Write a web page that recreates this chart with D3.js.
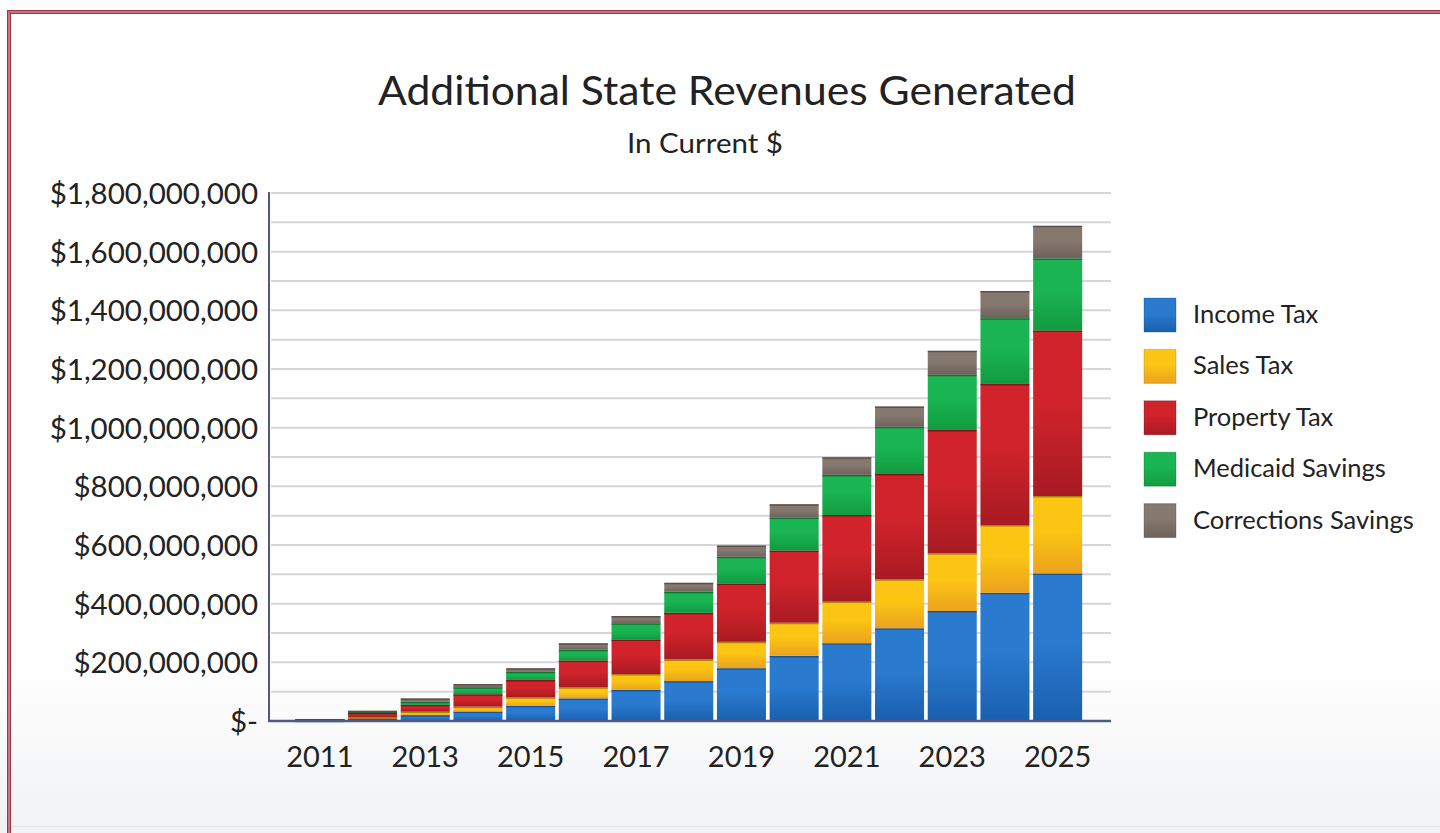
<!DOCTYPE html>
<html>
<head>
<meta charset="utf-8">
<script src="https://cdn.jsdelivr.net/npm/d3@7"></script>
<style>
  html, body { margin: 0; padding: 0; background: #fff; }
  svg { display: block; }
  text { font-family: Lato, "Open Sans", sans-serif; fill: #222; }
</style>
</head>
<body>
<svg id="chart" width="1440" height="833"></svg>
<script>
// ---- data (millions of $) ----
const years = [2011, 2012, 2013, 2014, 2015, 2016, 2017, 2018, 2019, 2020, 2021, 2022, 2023, 2024, 2025];
const incomeTax      = [1, 8, 20, 32, 52, 77, 106, 136, 180, 222, 265, 316, 375, 437, 503];
const salesTax       = [1, 4, 12, 17, 29, 38, 54, 74, 90, 113, 142, 167, 197, 231, 264];
const propertyTax    = [3, 16, 23, 42, 59, 91, 118, 159, 199, 246, 295, 359, 420, 481, 564];
const medicaidSaving = [1, 4, 11, 24, 28, 37, 55, 72, 91, 113, 137, 161, 188, 224, 246];
const correctionsSav = [1, 3, 11, 11, 12, 22, 25, 30, 38, 45, 60, 69, 82, 93, 111];
const seriesNames = ["Income Tax", "Sales Tax", "Property Tax", "Medicaid Savings", "Corrections Savings"];
const yTicks = [0, 200, 400, 600, 800, 1000, 1200, 1400, 1600, 1800];
const xTickYears = [2011, 2013, 2015, 2017, 2019, 2021, 2023, 2025];

const colors = [
  {top: "#2a7bd0", bot: "#1a5fae", edge: "#14467e"},
  {top: "#fcc514", bot: "#eaa21e", edge: "#8a6a10"},
  {top: "#d0232b", bot: "#a81a22", edge: "#5e1014"},
  {top: "#1ab552", bot: "#129a40", edge: "#0b5a25"},
  {top: "#85786f", bot: "#6e625b", edge: "#4a403a"}
];

const seriesVals = [incomeTax, salesTax, propertyTax, medicaidSaving, correctionsSav];
const table = years.map((y, i) => {
  const row = {year: y};
  seriesNames.forEach((n, k) => row[n] = seriesVals[k][i]);
  return row;
});

const svg = d3.select("#chart");
const defs = svg.append("defs");

// background gradient at bottom
const bg = defs.append("linearGradient").attr("id", "bgGrad").attr("x1", 0).attr("y1", 0).attr("x2", 0).attr("y2", 1);
bg.append("stop").attr("offset", "0%").attr("stop-color", "#ffffff");
bg.append("stop").attr("offset", "100%").attr("stop-color", "#f1f2f4");
svg.append("rect").attr("x", 0).attr("y", 660).attr("width", 1440).attr("height", 173).attr("fill", "url(#bgGrad)");
svg.append("line").attr("x1", 10).attr("x2", 1440).attr("y1", 826.5).attr("y2", 826.5).attr("stroke", "#e6e6e8").attr("stroke-width", 1);

// border (double red line)
svg.append("rect").attr("x", 7).attr("y", 10).attr("width", 1440).attr("height", 4).attr("fill", "#dfa3ae");
svg.append("rect").attr("x", 7).attr("y", 10).attr("width", 4).attr("height", 830).attr("fill", "#dfa3ae");
[[7, 10, 1440, 1.4], [9.6, 12.6, 1440, 1.4]].forEach(d => {
  svg.append("rect").attr("x", d[0]).attr("y", d[1]).attr("width", d[2]).attr("height", d[3]).attr("fill", "#a33448");
});
[[7, 10, 1.4, 830], [9.6, 12.6, 1.4, 830]].forEach(d => {
  svg.append("rect").attr("x", d[0]).attr("y", d[1]).attr("width", d[2]).attr("height", d[3]).attr("fill", "#a33448");
});

colors.forEach((c, k) => {
  const g = defs.append("linearGradient").attr("id", "g" + k).attr("x1", 0).attr("y1", 0).attr("x2", 0).attr("y2", 1);
  g.append("stop").attr("offset", "0%").attr("stop-color", c.top);
  g.append("stop").attr("offset", "45%").attr("stop-color", c.top);
  g.append("stop").attr("offset", "100%").attr("stop-color", c.bot);
});

// scales
const y = d3.scaleLinear().domain([0, 1800]).range([721, 193]);
const x = d3.scaleBand().domain(years).range([293.5, 1084]).paddingInner(0.07).paddingOuter(0.035);

// gridlines every 100
const gridVals = d3.range(100, 1801, 100);
svg.append("g").selectAll("line").data(gridVals).join("line")
  .attr("x1", 271).attr("x2", 1111)
  .attr("y1", d => y(d)).attr("y2", d => y(d))
  .attr("stroke", "#d6d6d8").attr("stroke-width", 2);

// stacked bars
const stack = d3.stack().keys(seriesNames)(table);
const barG = svg.append("g");
stack.forEach((layer, k) => {
  const g = barG.append("g");
  g.selectAll("rect").data(layer).join("rect")
    .attr("x", d => x(d.data.year))
    .attr("width", x.bandwidth())
    .attr("y", d => y(d[1]))
    .attr("height", d => Math.max(0, y(d[0]) - y(d[1])))
    .attr("fill", "url(#g" + k + ")");
  g.selectAll("line").data(layer).join("line")
    .attr("x1", d => x(d.data.year)).attr("x2", d => x(d.data.year) + x.bandwidth())
    .attr("y1", d => y(d[1]) + 0.75).attr("y2", d => y(d[1]) + 0.75)
    .attr("stroke", colors[k].edge).attr("stroke-opacity", 0.7).attr("stroke-width", 1.5);
});

// axes lines
svg.append("line").attr("x1", 269).attr("x2", 269).attr("y1", 192).attr("y2", 722)
  .attr("stroke", "#4d5b80").attr("stroke-width", 2);
svg.append("line").attr("x1", 268).attr("x2", 1111).attr("y1", 721).attr("y2", 721)
  .attr("stroke", "#4d5b80").attr("stroke-width", 2.5);

// y axis labels via d3 axis
const fmt = v => v === 0 ? "$-" : "$" + d3.format(",")(v * 1e6);
const yAxis = svg.append("g").attr("transform", "translate(269,0)")
  .call(d3.axisLeft(y).tickValues(yTicks).tickFormat(fmt).tickSize(0).tickPadding(11));
yAxis.select(".domain").remove();
yAxis.selectAll("text").style("font-family", "Lato, 'Open Sans', sans-serif")
  .style("font-size", "29.5px").attr("fill", "#1e1e1e").attr("dy", "0.36em");

// x axis labels
const xAxis = svg.append("g").attr("transform", "translate(0,721)")
  .call(d3.axisBottom(x).tickValues(xTickYears).tickSize(0).tickPadding(31));
xAxis.select(".domain").remove();
xAxis.selectAll("text").style("font-family", "Lato, 'Open Sans', sans-serif")
  .style("font-size", "29px").attr("fill", "#1e1e1e").attr("dy", "0.5em");

// title
svg.append("text").attr("x", 727).attr("y", 105).attr("text-anchor", "middle")
  .style("font-size", "40px").attr("textLength", 698).attr("lengthAdjust", "spacingAndGlyphs")
  .text("Additional State Revenues Generated");
svg.append("text").attr("x", 705).attr("y", 153).attr("text-anchor", "middle")
  .style("font-size", "27px").attr("textLength", 156).attr("lengthAdjust", "spacingAndGlyphs")
  .text("In Current $");

// legend
const leg = svg.append("g");
seriesNames.forEach((n, k) => {
  const yy = 298 + k * 51.4;
  leg.append("rect").attr("x", 1144).attr("y", yy).attr("width", 32).attr("height", 34)
    .attr("fill", "url(#g" + k + ")").attr("stroke", colors[k].edge).attr("stroke-opacity", 0.3);
  leg.append("text").attr("x", 1193).attr("y", yy + 16).attr("dy", "0.35em")
    .style("font-size", "25.5px").text(n);
});
</script>
</body>
</html>
